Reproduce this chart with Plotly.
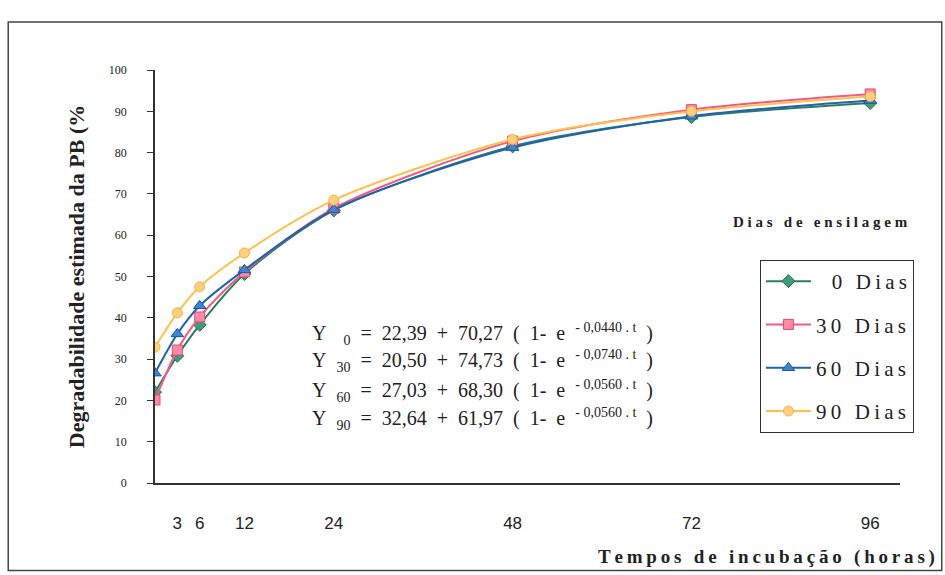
import plotly.graph_objects as go

# Data
tempos = [0, 3, 6, 12, 24, 48, 72, 96]
dias_0 = [22.0, 30.8, 38.3, 50.6, 66.0, 81.5, 88.6, 92.0]
dias_30 = [20.1, 32.2, 40.2, 51.1, 66.5, 82.8, 90.4, 94.2]
dias_60 = [26.6, 36.1, 42.9, 51.6, 66.2, 81.2, 88.8, 92.6]
dias_90 = [32.9, 41.2, 47.5, 55.7, 68.5, 83.2, 90.0, 93.6]

x_ticks = [3, 6, 12, 24, 48, 72, 96]
y_ticks = [0, 10, 20, 30, 40, 50, 60, 70, 80, 90, 100]

series_names = ["0 Dias", "30 Dias", "60 Dias", "90 Dias"]
eq_sub = ["\u00a0\u00a00", "30", "60", "90"]
eq_a = ["22,39", "20,50", "27,03", "32,64"]
eq_b = ["70,27", "74,73", "68,30", "61,97"]
eq_c = ["0,0440", "0,0740", "0,0560", "0,0560"]

serif = "Liberation Serif"
sp = "\u00a0"
thin = "\u2009"


def spaced(s):
    return thin.join(list(s))


def legend_label(s):
    lab = spaced(s)
    if len(s) < 7:
        lab = sp + sp + sp + lab
    return lab


styles = [
    dict(line="#2b7d62", fill="#3f9a7a", edge="#2b6e58", symbol="diamond", size=10),
    dict(line="#f25a84", fill="#ff8aa6", edge="#e84a72", symbol="square", size=10),
    dict(line="#1f63b0", fill="#3b86cf", edge="#1d55a0", symbol="triangle-up", size=11),
    dict(line="#ffc14d", fill="#ffcf80", edge="#f5b040", symbol="circle", size=10),
]

fig = go.Figure()
for i, (name, vals) in enumerate(zip(series_names, [dias_0, dias_30, dias_60, dias_90])):
    s = styles[i]
    fig.add_trace(go.Scatter(
        x=tempos, y=vals, name=legend_label(name), mode="lines+markers",
        line=dict(color=s["line"], width=2, shape="spline", smoothing=0.8),
        marker=dict(symbol=s["symbol"], size=s["size"], color=s["fill"],
                    line=dict(color=s["edge"], width=1)),
        legendgroup=str(i),
    ))

annotations = []
eq_y = [36.0, 29.5, 22.3, 15.5]
s2 = sp + sp
for k in range(4):
    txt = ("Y" + s2 + "<sub>" + eq_sub[k] + "</sub>" + s2 + "=" + s2 + eq_a[k]
           + s2 + "+" + s2 + eq_b[k] + s2 + "(" + s2 + "1-" + s2 + "e"
           + s2 + "<sup>- " + eq_c[k] + " . t</sup>" + s2 + ")")
    annotations.append(dict(x=20.8, y=eq_y[k], xref="x", yref="y", text=txt,
                            showarrow=False, xanchor="left", yanchor="middle",
                            font=dict(family=serif, size=20, color="#222")))

annotations.append(dict(x=89.3, y=0.632, xref="x", yref="paper",
                        text="<b>D i a s  d e  e n s i l a g e m</b>".replace("  ", sp + sp + sp),
                        showarrow=False, xanchor="center", yanchor="middle",
                        font=dict(family=serif, size=15, color="#222")))
annotations.append(dict(x=1.05, y=-0.18, xref="paper", yref="paper",
                        text="<b>" + spaced("Tempos de incubação (horas)") + "</b>",
                        showarrow=False, xanchor="right", yanchor="middle",
                        font=dict(family=serif, size=19, color="#222")))

fig.update_layout(
    width=945, height=575,
    margin=dict(l=155, r=45, t=70, b=92),
    paper_bgcolor="white", plot_bgcolor="white",
    showlegend=True,
    legend=dict(x=0.812, y=0.54, xanchor="left", yanchor="top",
                bordercolor="#333", borderwidth=1, bgcolor="white",
                font=dict(family=serif, size=21, color="#222"),
                traceorder="grouped", tracegroupgap=13, itemwidth=45),
    xaxis=dict(range=[0, 100], tickvals=x_ticks, ticks="", showgrid=False,
               zeroline=False, showline=True, linecolor="#333", linewidth=1.5,
               tickfont=dict(family="Liberation Sans", size=17, color="#222"),
               ticklabelstandoff=24),
    yaxis=dict(range=[0, 100], tickvals=y_ticks, ticks="outside", ticklen=6,
               tickcolor="#333", showgrid=False, zeroline=False, showline=True,
               linecolor="#333", linewidth=1.5,
               tickfont=dict(family=serif, size=12, color="#222"),
               ticklabelstandoff=18,
               title=dict(text="<b>Degradabilidade estimada da PB (%</b>",
                          font=dict(family=serif, size=22, color="#222"),
                          standoff=18)),
    annotations=annotations,
    shapes=[dict(type="rect", xref="paper", yref="paper",
                 x0=-0.197, x1=1.056, y0=-0.212, y1=1.116,
                 line=dict(color="#444", width=1.5))],
)

fig.write_html("out.html", config={"displayModeBar": False},
               post_script="document.body.style.margin='0';")
